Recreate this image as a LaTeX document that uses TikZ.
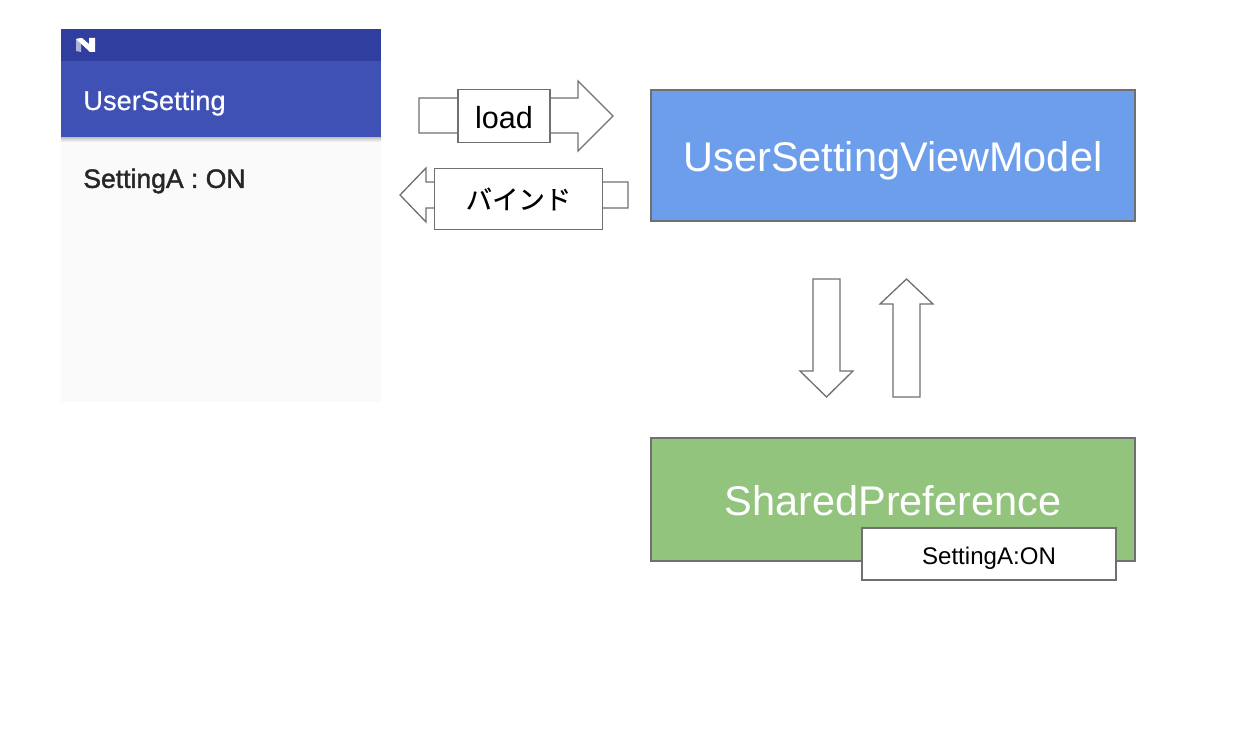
\documentclass[tikz,border=0pt]{standalone}
\usepackage{fontspec}
\setmainfont{Liberation Sans}
\newfontfamily\jpfont[FakeBold=0.3]{Noto Sans CJK JP}
\newfontfamily\titlefont[FakeBold=0.4]{Liberation Sans}
\newfontfamily\settingfont[FakeBold=1.5]{Liberation Sans}
\newcommand{\lowertext}[2]{\raisebox{-#1}[0pt][0pt]{#2}}
\definecolor{statusblue}{HTML}{303F9F}
\definecolor{barblue}{HTML}{3F51B5}
\definecolor{panelgray}{HTML}{FAFAFA}
\definecolor{modelblue}{HTML}{6D9EEB}
\definecolor{prefgreen}{HTML}{93C47D}
\definecolor{edgegray}{HTML}{707070}
\tikzset{
  blockarrow/.style={draw=edgegray, fill=white, line width=0.75pt, line join=miter},
  modelbox/.style={draw=edgegray, line width=0.7pt, inner sep=0pt, text=white, font=\fontsize{23.6}{28}\selectfont, minimum width=9.68cm},
  labelbox/.style={draw=edgegray, fill=white, line width=0.7pt, inner sep=0pt}
}

\begin{document}
\begin{tikzpicture}[x=0.02cm, y=-0.02cm]
      \useasboundingbox (0, 0) rectangle (1241, 750);

      % the phone screen
      \fill [panelgray] (61, 137) rectangle (381, 402);
      \shade [top color=black!25, bottom color=panelgray] (61, 137) rectangle (381, 142);
      \fill [barblue] (61, 61) rectangle (381, 137);
      \fill [statusblue] (61, 29) rectangle (381, 61);
      \fill [white, opacity=0.6] (76, 39) -- (81, 38) -- (81, 52) -- (76, 51) -- cycle;
      \fill [white] (76, 39) -- (82, 38) -- (89, 44) -- (89, 38) -- (95, 38) -- (95, 52) -- (90, 52) -- cycle;
      \node [text=white, anchor=west, inner sep=0pt, font=\fontsize{15.5}{18}\selectfont\titlefont] (title) at (83, 103) {UserSetting};
      \node [text=black!85, anchor=west, inner sep=0pt, font=\fontsize{15.1}{18}\selectfont\settingfont] (setting) at (83, 181) {SettingA : ON};

      % arrows
      \draw [blockarrow] (419, 98) -- (578, 98) -- (578, 81) -- (613, 116) -- (578, 151) -- (578, 133) -- (419, 133) -- cycle;
      \draw [blockarrow] (400, 195) -- (426, 168) -- (426, 182) -- (628, 182) -- (628, 208) -- (426, 208) -- (426, 222) -- cycle;
      \draw [blockarrow] (813, 279) -- (840, 279) -- (840, 371) -- (853, 371) -- (826.5, 397) -- (800, 371) -- (813, 371) -- cycle;
      \draw [blockarrow] (893, 397) -- (920, 397) -- (920, 304) -- (933, 304) -- (906.5, 279) -- (880, 304) -- (893, 304) -- cycle;

      \node [labelbox, minimum width=1.84cm, minimum height=1.06cm, font=\fontsize{17.4}{20}\selectfont] (load) at (504, 116) {\lowertext{0.26cm}{load}};
      \node [labelbox, minimum width=3.36cm, minimum height=1.22cm, font=\fontsize{15}{18}\selectfont\jpfont] (bind) at (518.5, 199) {バインド};

      \node [modelbox, fill=modelblue, minimum height=2.62cm] (viewmodel) at (893, 155.5) {\lowertext{0.33cm}{UserSettingViewModel}};
      \node [modelbox, fill=prefgreen, minimum height=2.46cm] (pref) at (893, 499.5) {\lowertext{0.33cm}{SharedPreference}};
      \node [labelbox, minimum width=5.08cm, minimum height=1.04cm, font=\fontsize{13.7}{16}\selectfont] (prefvalue) at (989, 554) {\lowertext{0.2cm}{SettingA:ON}};
    \end{tikzpicture}
\end{document}
